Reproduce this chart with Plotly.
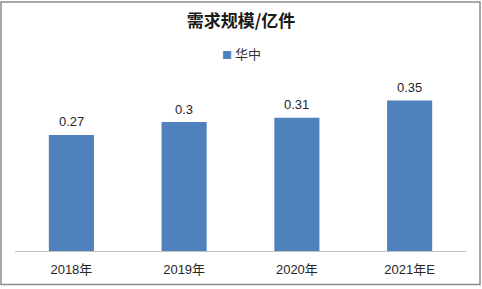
import plotly.graph_objects as go

categories = ["2018年", "2019年", "2020年", "2021年E"]
values = [0.27, 0.3, 0.31, 0.35]
series_name = "华中"
title_text = "需求规模/亿件"
bar_color = "#4f81bd"

W, H = 482, 289
ML, MR, MT, MB = 15, 16, 79, 36
PW, PH = W - ML - MR, H - MT - MB
font_family = "Liberation Sans, Noto Sans CJK SC, sans-serif"
cjk_family = "Noto Sans CJK SC, sans-serif"

fig = go.Figure(
    go.Bar(
        x=categories,
        y=values,
        name=series_name,
        marker=dict(color=bar_color, line=dict(width=0)),
        showlegend=False,
    )
)

# value labels above each bar
annotations = [
    dict(
        x=c,
        y=v,
        xref="x",
        yref="y",
        text=f"{v:g}",
        showarrow=False,
        yanchor="middle",
        yshift=13,
        font=dict(size=13, color="#262626", family=font_family),
    )
    for c, v in zip(categories, values)
]

# legend entry: small square marker followed by the series name
annotations.append(
    dict(
        x=(241 - ML) / PW,
        y=(H - 53 - MB) / PH,
        xref="paper",
        yref="paper",
        xanchor="center",
        yanchor="middle",
        showarrow=False,
        text=f"<span style='color:{bar_color};font-size:10px'>■</span> {series_name}",
        font=dict(size=13, color="#333333", family=cjk_family),
    )
)

fig.update_layout(
    width=W,
    height=H,
    margin=dict(l=ML, r=MR, t=MT, b=MB),
    paper_bgcolor="white",
    plot_bgcolor="white",
    bargap=0.6,
    title=dict(
        text="<b>" + title_text + "</b>",
        x=0.5,
        xanchor="center",
        xref="container",
        y=1 - 21.5 / H,
        yref="container",
        yanchor="middle",
        font=dict(size=17, color="#1a1a1a", family=cjk_family),
    ),
    showlegend=False,
    xaxis=dict(
        showgrid=False,
        showline=True,
        linecolor="#bfbfbf",
        linewidth=1,
        ticks="",
        ticklabelstandoff=6,
        tickfont=dict(size=13, color="#262626", family=font_family),
        fixedrange=True,
    ),
    yaxis=dict(
        range=[0, 0.4],
        visible=False,
        showgrid=False,
        fixedrange=True,
    ),
    annotations=annotations,
    shapes=[
        dict(
            type="rect",
            xref="paper",
            yref="paper",
            x0=-(ML - 1) / PW,
            x1=1 + (MR - 2) / PW,
            y0=-(MB - 2) / PH,
            y1=1 + (MT - 1) / PH,
            line=dict(color="#8c8c8c", width=1.5),
            fillcolor="rgba(0,0,0,0)",
            layer="below",
        )
    ],
)

fig.write_html("out.html")
